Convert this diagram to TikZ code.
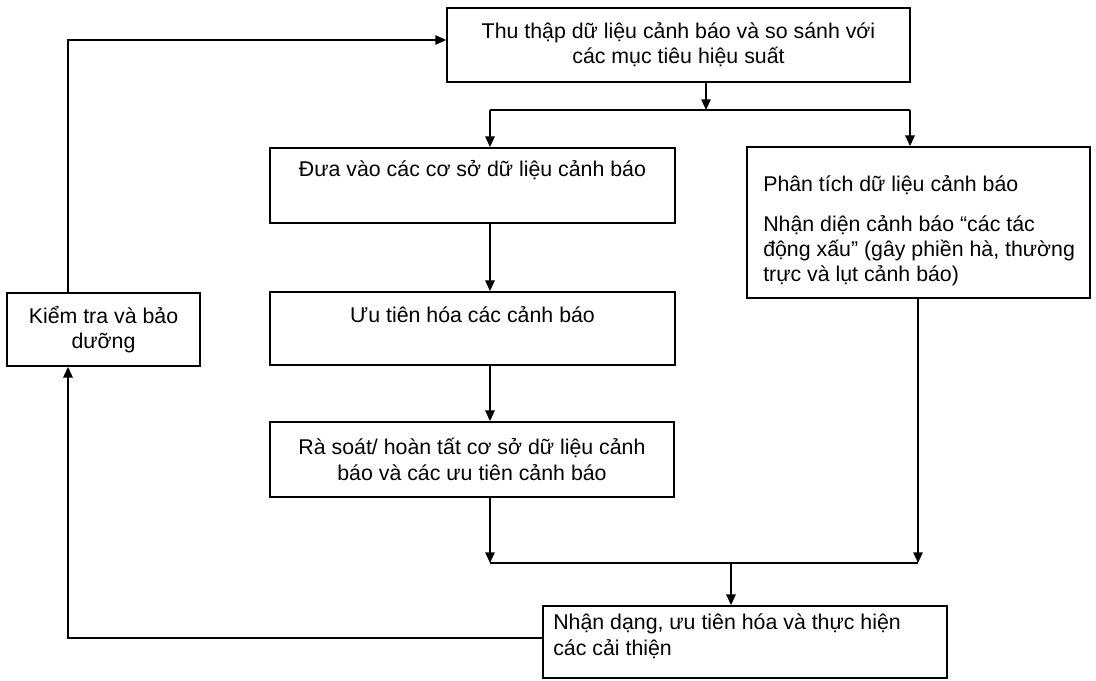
\documentclass[tikz,border=0pt]{standalone}
\usepackage{fontspec}
\setmainfont{Liberation Sans}
\usepackage{tikz}
\usetikzlibrary{arrows.meta,positioning,calc,fit}
\tikzset{
  box/.style={draw, line width=1.3pt, inner sep=0pt},
  lbl/.style={font=\fontsize{16}{19}\selectfont, inner sep=0pt, align=center},
  lbll/.style={font=\fontsize{16}{19}\selectfont, inner sep=0pt, align=left, anchor=north west},
  ln/.style={line width=1.3pt},
  arr/.style={line width=1.3pt, -{Triangle[length=8pt,width=7pt]}}
}

\begin{document}
\begin{tikzpicture}[x=0.75pt,y=-0.75pt]
  \useasboundingbox (0,0) rectangle (1096,681);
  \node[box, fit={(447,8) (910,82)}] (collect) {};
  \node[lbl] (collecttxt) at (collect.center) {Thu thập dữ liệu cảnh báo và so sánh với\\các mục tiêu hiệu suất};
  \node[box, fit={(270,148) (675,223)}] (enter) {};
  \node[lbl] (entertxt) at (472.5,170) {Đưa vào các cơ sở dữ liệu cảnh báo};
  \node[box, fit={(270,292) (675,365)}] (prio) {};
  \node[lbl] (priotxt) at (472.5,315) {Ưu tiên hóa các cảnh báo};
  \node[box, fit={(270,422) (674,497)}] (review) {};
  \node[lbl] (reviewtxt) at (review.center) {Rà soát/ hoàn tất cơ sở dữ liệu cảnh\\báo và các ưu tiên cảnh báo};
  \node[box, fit={(747,147) (1090,298)}] (analyse) {};
  \node[lbll] (analysetxt) at (763,175) {Phân tích dữ liệu cảnh báo\\[11pt]Nhận diện cảnh báo “các tác\\động xấu” (gây phiền hà, thường\\trực và lụt cảnh báo)};
  \node[box, fit={(543,606) (947,678)}] (improve) {};
  \node[lbll] (improvetxt) at (553,614) {Nhận dạng, ưu tiên hóa và thực hiện\\các cải thiện};
  \node[box, fit={(7,293) (200,366)}] (check) {};
  \node[lbl] (checktxt) at (check.center) {Kiểm tra và bảo\\dưỡng};

  \coordinate (split) at (706,110);
  \coordinate (spL) at (490,110);
  \coordinate (spR) at (910,110);
  \coordinate (mgL) at (490,563);
  \coordinate (mgR) at (918,563);
  \coordinate (merge) at (731,563);
  \coordinate (fbB) at (68,638);
  \coordinate (fbT) at (68,40);

  \draw[arr] (collect.south -| split) -- (split);
  \draw[ln] (spL) -- (spR);
  \draw[arr] (spL) -- (spL |- enter.north);
  \draw[arr] (spR) -- (spR |- analyse.north);
  \draw[arr] (spL |- enter.south) -- (spL |- prio.north);
  \draw[arr] (spL |- prio.south) -- (spL |- review.north);
  \draw[arr] (mgL |- review.south) -- (mgL);
  \draw[arr] (mgR |- analyse.south) -- (mgR);
  \draw[ln] (mgL) -- (mgR);
  \draw[arr] (merge) -- (merge |- improve.north);
  \draw[arr] (fbB -| improve.west) -- (fbB) -- (fbB |- check.south);
  \draw[arr] (fbT |- check.north) -- (fbT) -- (fbT -| collect.west);
\end{tikzpicture}
\end{document}
